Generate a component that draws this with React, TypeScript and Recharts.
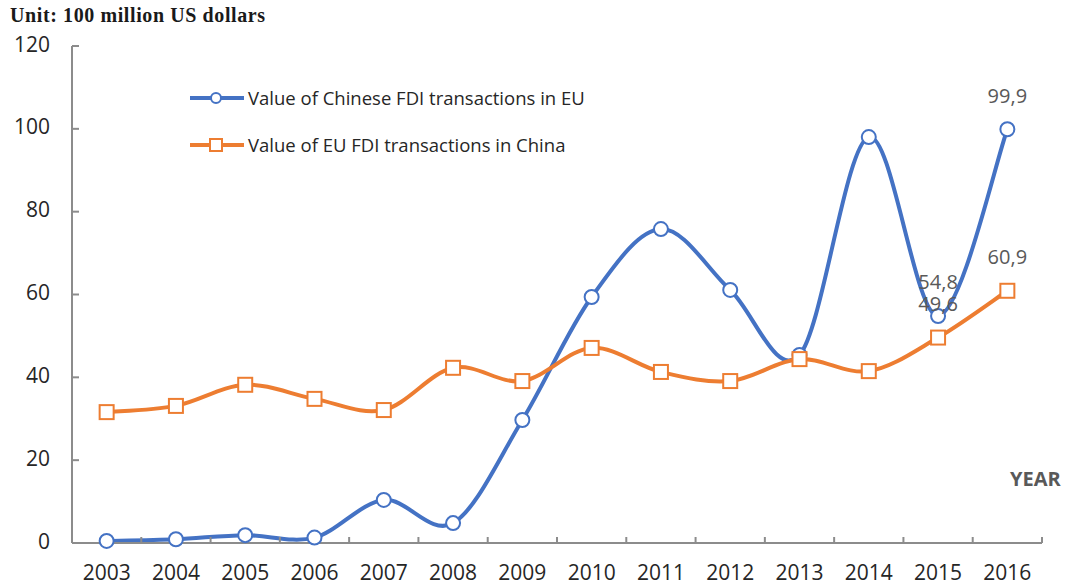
import { LineChart, Line, XAxis, YAxis, Legend, LabelList } from 'recharts'

const years = ['2003', '2004', '2005', '2006', '2007', '2008', '2009', '2010', '2011', '2012', '2013', '2014', '2015', '2016']
const chineseFdiInEu = [0.5, 0.9, 1.9, 1.3, 10.4, 4.8, 29.7, 59.4, 75.8, 61.1, 45.4, 98.0, 54.8, 99.9]
const euFdiInChina = [31.6, 33.1, 38.2, 34.8, 32.1, 42.3, 39.1, 47.1, 41.3, 39.1, 44.4, 41.5, 49.6, 60.9]
const yTicks = [0, 20, 40, 60, 80, 100, 120]
const labelledYears = ['2015', '2016']

const BLUE = '#4472C4'
const ORANGE = '#ED7D31'
const AXIS = '#8c8c8c'
const FONT = '"Open Sans", sans-serif'

const data = years.map((year, i) => ({ x: i + 0.5, year, cn: chineseFdiInEu[i], eu: euFdiInChina[i] }))

// ticks at category boundaries (integers) and labels at category centres (halves)
const xTicks: number[] = []
for (let i = 0; i <= years.length * 2; i++) xTicks.push(i / 2)

// Excel-like smoothing: Catmull-Rom through every point
function excelCurve(context: any) {
  let pts: number[][] = []
  return {
    areaStart() {},
    areaEnd() {},
    lineStart() { pts = [] },
    point(x: number, y: number) { pts.push([+x, +y]) },
    lineEnd() {
      if (!pts.length) return
      context.moveTo(pts[0][0], pts[0][1])
      for (let i = 0; i < pts.length - 1; i++) {
        const p0 = pts[i - 1] || pts[i]
        const p1 = pts[i]
        const p2 = pts[i + 1]
        const p3 = pts[i + 2] || p2
        context.bezierCurveTo(
          p1[0] + (p2[0] - p0[0]) / 6, p1[1] + (p2[1] - p0[1]) / 6,
          p2[0] - (p3[0] - p1[0]) / 6, p2[1] - (p3[1] - p1[1]) / 6,
          p2[0], p2[1],
        )
      }
    },
  }
}

const XTick = ({ x, y, payload }: any) => {
  const v = payload.value
  if (Number.isInteger(v)) {
    return <line x1={x} x2={x} y1={y} y2={y - 6} stroke={AXIS} strokeWidth={2} />
  }
  return (
    <text x={x} y={y + 31} textAnchor="middle" dominantBaseline="middle" fontFamily={FONT} fontSize={21} fill="#262626">
      {years[Math.floor(v)]}
    </text>
  )
}

const YTick = ({ x, y, payload }: any) => (
  <g>
    <line x1={x} x2={x + 7} y1={y} y2={y} stroke={AXIS} strokeWidth={2} />
    <text x={x - 22} y={y} textAnchor="end" dominantBaseline="middle" fontFamily={FONT} fontSize={21} fill="#262626">
      {payload.value}
    </text>
  </g>
)

const Square = ({ cx, cy }: any) => (
  <rect x={cx - 7} y={cy - 7} width={14} height={14} fill="#fff" stroke={ORANGE} strokeWidth={2} />
)

const valueLabel = ({ x, y, value, index }: any) => {
  if (!labelledYears.includes(years[index])) return null
  return (
    <text x={x} y={y - 32} textAnchor="middle" dominantBaseline="middle" fontFamily={FONT} fontSize={20} fill="#595959">
      {Number(value).toFixed(1).replace('.', ',')}
    </text>
  )
}

const LegendBox = () => (
  <div style={{ fontFamily: FONT, fontSize: 18.5, color: '#262626' }}>
    {[
      { name: 'Value of Chinese FDI transactions in EU', color: BLUE, square: false },
      { name: 'Value of EU FDI transactions in China', color: ORANGE, square: true },
    ].map((e) => (
      <div key={e.name} style={{ display: 'flex', alignItems: 'center', height: 47 }}>
        <svg width={58} height={20}>
          <line x1={2} x2={56} y1={10} y2={10} stroke={e.color} strokeWidth={4} />
          {e.square
            ? <rect x={22} y={4} width={12} height={12} fill="#fff" stroke={e.color} strokeWidth={2} />
            : <circle cx={28} cy={10} r={5} fill="#fff" stroke={e.color} strokeWidth={2} />}
        </svg>
        <span style={{ marginLeft: 2 }}>{e.name}</span>
      </div>
    ))}
  </div>
)

export default function App() {
  return (
    <div style={{ position: 'fixed', left: 0, top: 0, width: 1068, height: 585, background: '#fff' }}>
      <div style={{ position: 'absolute', left: 10, top: 4, fontFamily: '"Liberation Serif", serif', fontWeight: 'bold', fontSize: 20, letterSpacing: 0.6, color: '#1a1a1a', whiteSpace: 'nowrap' }}>
        Unit: 100 million US dollars
      </div>
      <div style={{ position: 'absolute', left: 1010, top: 465, fontFamily: FONT, fontWeight: 'bold', fontSize: 20, color: '#595959' }}>
        YEAR
      </div>
      <LineChart width={1068} height={585} data={data} margin={{ top: 46, right: 26, bottom: 0, left: 0 }}>
        <XAxis
          dataKey="x"
          type="number"
          domain={[0, years.length]}
          ticks={xTicks}
          interval={0}
          tick={<XTick />}
          tickSize={0}
          tickMargin={0}
          tickLine={false}
          height={42}
          axisLine={{ stroke: AXIS, strokeWidth: 2 }}
        />
        <YAxis
          type="number"
          domain={[0, 120]}
          ticks={yTicks}
          interval={0}
          tick={<YTick />}
          tickSize={0}
          tickMargin={0}
          tickLine={false}
          width={72}
          axisLine={{ stroke: AXIS, strokeWidth: 2 }}
        />
        <Legend
          content={<LegendBox />}
          layout="horizontal"
          verticalAlign="middle"
          align="center"
          wrapperStyle={{ left: 188, top: 74, width: 480, height: 94 }}
        />
        <Line
          dataKey="cn"
          type={excelCurve as any}
          stroke={BLUE}
          strokeWidth={4}
          dot={{ r: 7, fill: '#fff', stroke: BLUE, strokeWidth: 2 }}
          activeDot={false}
          isAnimationActive={false}
        >
          <LabelList dataKey="cn" content={valueLabel} />
        </Line>
        <Line
          dataKey="eu"
          type={excelCurve as any}
          stroke={ORANGE}
          strokeWidth={4}
          dot={<Square />}
          activeDot={false}
          isAnimationActive={false}
        >
          <LabelList dataKey="eu" content={valueLabel} />
        </Line>
      </LineChart>
    </div>
  )
}
